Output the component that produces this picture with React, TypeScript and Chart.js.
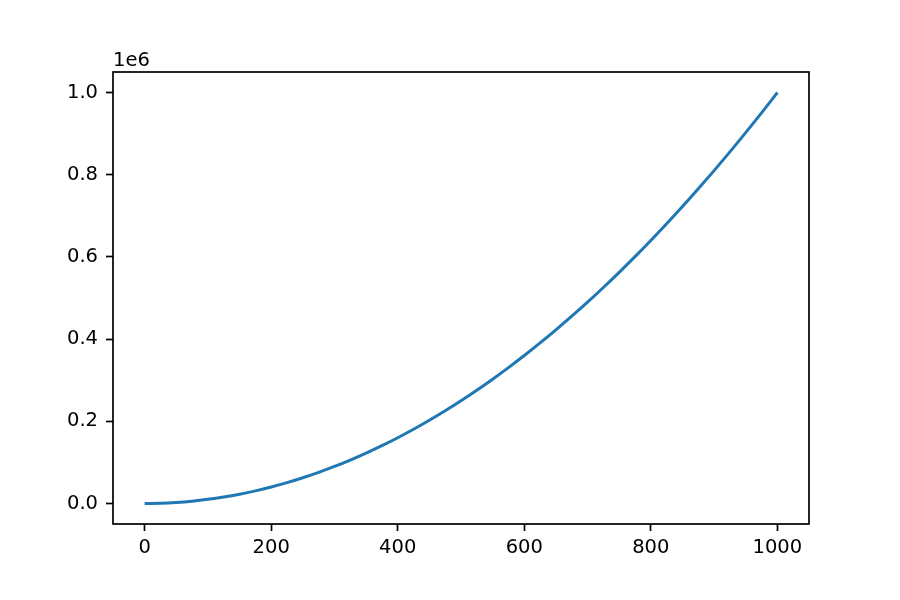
import React, { useEffect, useRef } from "react";
import { Chart, registerables } from "chart.js";

Chart.register(...registerables);

const xValues = [0, 25, 50, 75, 100, 125, 150, 175, 200, 225, 250, 275, 300, 325, 350, 375, 400, 425, 450, 475, 500, 525, 550, 575, 600, 625, 650, 675, 700, 725, 750, 775, 800, 825, 850, 875, 900, 925, 950, 975, 1000];
const yValues = [0, 625, 2500, 5625, 10000, 15625, 22500, 30625, 40000, 50625, 62500, 75625, 90000, 105625, 122500, 140625, 160000, 180625, 202500, 225625, 250000, 275625, 302500, 330625, 360000, 390625, 422500, 455625, 490000, 525625, 562500, 600625, 640000, 680625, 722500, 765625, 810000, 855625, 902500, 950625, 1000000];
const xTicks = [0, 200, 400, 600, 800, 1000];
const yTicks = [0, 200000, 400000, 600000, 800000, 1000000];
const yOffsetLabel = "1e6";

const FONT = "'DejaVu Sans', sans-serif";
const FONT_SIZE = 19.5;

const framePlugin = {
  id: "frame",
  afterDraw(chart: any) {
    const { ctx, chartArea } = chart;
    ctx.save();
    ctx.strokeStyle = "#000";
    ctx.lineWidth = 1.7;
    ctx.strokeRect(
      Math.round(chartArea.left),
      Math.round(chartArea.top),
      Math.round(chartArea.right - chartArea.left),
      Math.round(chartArea.bottom - chartArea.top)
    );
    ctx.fillStyle = "#000";
    ctx.font = `${FONT_SIZE}px ${FONT}`;
    ctx.textAlign = "left";
    ctx.textBaseline = "alphabetic";
    ctx.fillText(yOffsetLabel, chartArea.left, chartArea.top - 6);
    ctx.restore();
  },
};

export default function App() {
  const ref = useRef<HTMLCanvasElement | null>(null);
  useEffect(() => {
    if (!ref.current) return;
    const chart = new Chart(ref.current, {
      type: "line",
      data: {
        datasets: [
          {
            data: xValues.map((x, i) => ({ x, y: yValues[i] })),
            borderColor: "#1f77b4",
            borderWidth: 3,
            pointRadius: 0,
            fill: false,
            cubicInterpolationMode: "monotone",
          },
        ],
      },
      options: {
        animation: false,
        responsive: false,
        maintainAspectRatio: false,
        layout: { padding: { top: 72, right: 91, left: 0, bottom: 0 } },
        plugins: { legend: { display: false }, tooltip: { enabled: false } },
        scales: {
          x: {
            type: "linear",
            min: -50,
            max: 1050,
            afterBuildTicks: (s: any) => {
              s.ticks = xTicks.map((v) => ({ value: v }));
            },
            afterFit: (s: any) => {
              s.height = 76;
            },
            grid: { color: "rgba(0,0,0,0)", tickColor: "#000", tickLength: 7, tickWidth: 1.7, drawOnChartArea: false },
            border: { display: false },
            ticks: {
              color: "#000",
              font: { family: FONT, size: FONT_SIZE },
              padding: 5,
              maxRotation: 0,
              callback: (v: any) => String(v),
            },
          },
          y: {
            type: "linear",
            min: -50000,
            max: 1050000,
            afterBuildTicks: (s: any) => {
              s.ticks = yTicks.map((v) => ({ value: v }));
            },
            afterFit: (s: any) => {
              s.width = 113;
            },
            grid: { color: "rgba(0,0,0,0)", tickColor: "#000", tickLength: 7, tickWidth: 1.7, drawOnChartArea: false },
            border: { display: false },
            ticks: {
              color: "#000",
              font: { family: FONT, size: FONT_SIZE },
              padding: 8,
              callback: (v: any) => (Number(v) / 1e6).toFixed(1),
            },
          },
        },
      },
      plugins: [framePlugin],
    } as any);
    return () => chart.destroy();
  }, []);
  return (
    <div style={{ position: "fixed", left: 0, top: 0, width: 900, height: 600, background: "#fff" }}>
      <canvas ref={ref} width={900} height={600} style={{ width: 900, height: 600 }} />
    </div>
  );
}
